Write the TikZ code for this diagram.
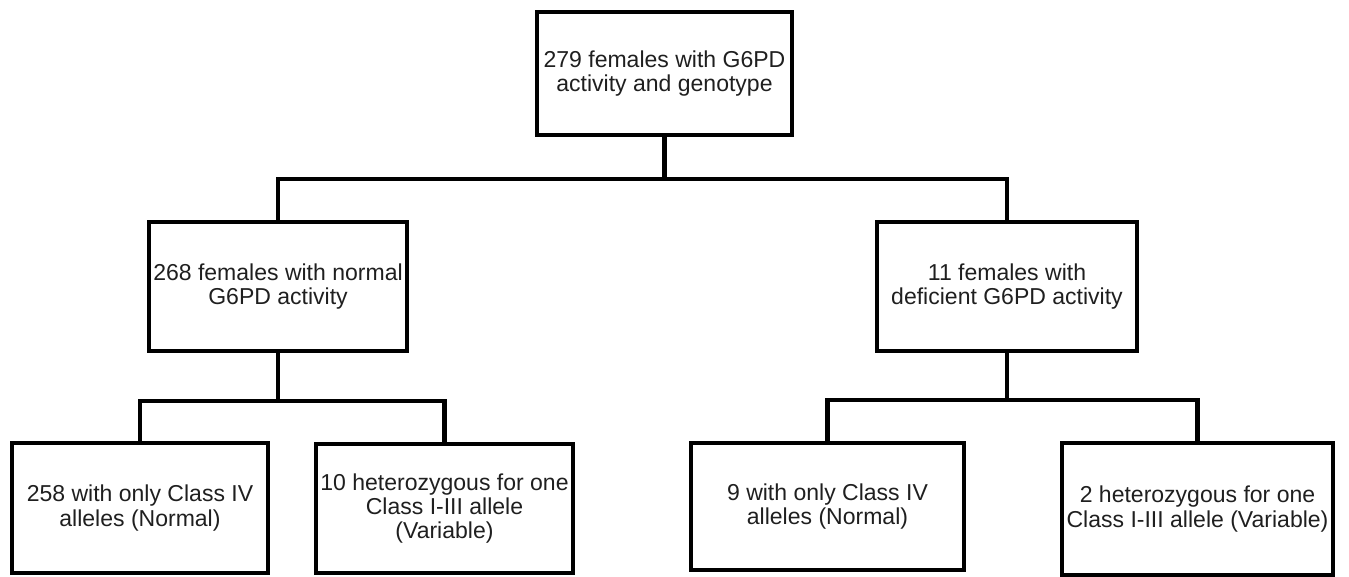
\documentclass[tikz,border=0pt]{standalone}
\usepackage{fontspec}
\setmainfont{Liberation Sans}
\begin{document}
\begin{tikzpicture}[x=0.02cm,y=-0.02cm,
  box/.style={draw=black, line width=2.5pt, rectangle, inner sep=0pt, outer sep=0pt,
    align=center, text=black!88,
    font=\fontsize{13.1pt}{13.9pt}\selectfont},
  conn/.style={draw=black, line width=2.5pt}]
\useasboundingbox (0,0) rectangle (1349,577);
\node[box, minimum width=5.1cm, minimum height=2.46cm] (top) at (664.5,73.5)
  {279 females with G6PD\\activity and genotype};
\node[box, minimum width=5.16cm, minimum height=2.58cm] (ml) at (278,286.5)
  {268 females with normal\\G6PD activity};
\node[box, minimum width=5.2cm, minimum height=2.58cm] (mr) at (1007,286.5)
  {11 females with\\deficient G6PD activity};
\node[box, minimum width=5.12cm, minimum height=2.6cm] (b1) at (140,508)
  {258 with only Class IV\\alleles (Normal)};
\node[box, minimum width=5.14cm, minimum height=2.58cm] (b2) at (444.5,508.5)
  {10 heterozygous for one\\Class I-III allele\\(Variable)};
\node[box, minimum width=5.46cm, minimum height=2.54cm] (b3) at (827.5,506.5)
  {9 with only Class IV\\alleles (Normal)};
\node[box, minimum width=5.42cm, minimum height=2.64cm] (b4) at (1197.5,509)
  {2 heterozygous for one\\Class I-III allele (Variable)};
\coordinate (h1) at (0,179);
\coordinate (h2) at (0,401);
\coordinate (h3) at (0,400);
\draw[conn] (top.south) -- (top.south |- h1);
\draw[conn] (ml.north) -- (ml.north |- h1) -| (mr.north);
\draw[conn] (ml.south) -- (ml.south |- h2);
\draw[conn] (b1.north) -- (b1.north |- h2) -| (b2.north);
\draw[conn] (mr.south) -- (mr.south |- h3);
\draw[conn] (b3.north) -- (b3.north |- h3) -| (b4.north);
\end{tikzpicture}
\end{document}
